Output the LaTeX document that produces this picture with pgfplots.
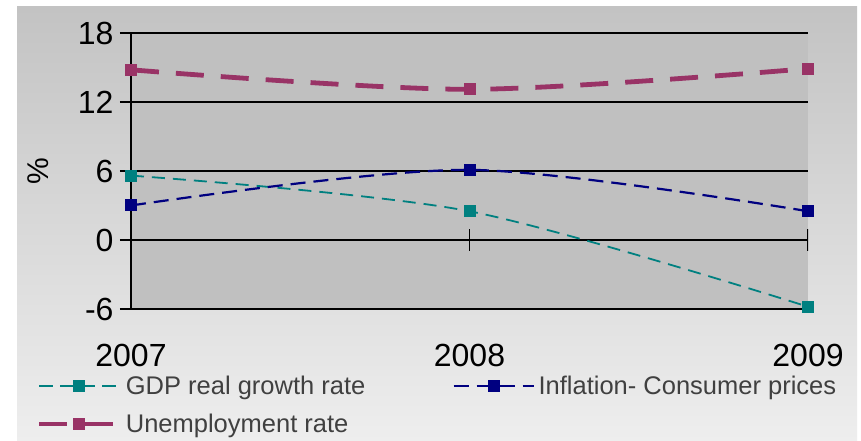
\documentclass[border=0pt]{standalone}
\usepackage{fontspec}
\setmainfont{Liberation Sans}
\usepackage{pgfplots}
\pgfplotsset{compat=1.18}
\definecolor{gdp}{HTML}{008080}
\definecolor{infl}{HTML}{000080}
\definecolor{unemp}{HTML}{993366}
\definecolor{plotbg}{HTML}{C0C0C0}
\definecolor{legtext}{HTML}{404040}
\begin{document}
\begin{tikzpicture}[x=1pt,y=1pt]
\path[fill=white] (0,0) rectangle (861,441);
\shade[top color={rgb,255:red,195;green,195;blue,195}, bottom color={rgb,255:red,238;green,238;blue,238}] (17,0) rectangle (857,434);
\begin{axis}[
  at={(131pt,132pt)}, anchor=south west,
  scale only axis, width=677pt, height=276pt,
  xmin=0, xmax=2, ymin=-6, ymax=18,
  axis background/.style={fill=plotbg},
  axis x line*=bottom, axis y line*=left,
  axis line style={black, line width=1.2pt},
  xtick={0,1,2}, xticklabels={2007,2008,2009},
  ytick={-6,0,6,12,18}, yticklabels={-6,0,6,12,18},
  xtick style={draw=none},
  ytick style={black, line width=1.2pt},
  tick align=outside, major tick length=11pt,
  ymajorgrids, grid style={black, line width=1.2pt},
  ticklabel style={font=\fontsize{32}{38}\selectfont, text=black},
  xticklabel style={yshift=-21pt},
  yticklabel style={xshift=-3pt},
  ylabel={\%},
  ylabel style={at={(axis description cs:-0.137,0.5)}, anchor=center, font=\fontsize{30}{34}\selectfont},
  legend columns=2,
  legend style={at={(axis description cs:-0.139,-0.348)}, anchor=west, draw=none, fill=none,
    font=\fontsize{25.5}{30}\selectfont, text=legtext, inner sep=0pt,
    row sep=10pt, nodes={inner sep=4pt, anchor=west},
    /tikz/column 2/.style={column sep=83pt},
    /tikz/column 4/.style={nodes={xshift=5pt}}},
  legend cell align=left,
  legend image code/.code={\draw[mark repeat=2,mark phase=2] plot coordinates {(0pt,0pt) (40pt,0pt) (80pt,0pt)};},
]
\addplot[gdp, line width=1.8pt, dash pattern=on 13pt off 8pt, smooth, tension=0.5,
  mark=square*, mark size=5.5pt, mark options={solid, fill=gdp, line width=0pt}]
  coordinates {(0,5.6) (1,2.5) (2,-5.8)};
\addlegendentry{GDP real growth rate}
\addplot[infl, line width=2.2pt, dash pattern=on 15pt off 8pt, smooth, tension=0.5,
  mark=square*, mark size=5.5pt, mark options={solid, fill=infl, line width=0pt}]
  coordinates {(0,3.0) (1,6.1) (2,2.5)};
\addlegendentry{Inflation- Consumer prices}
\addplot[unemp, line width=4.8pt, dash pattern=on 28pt off 17pt, smooth, tension=0.5,
  mark=square*, mark size=5.5pt, mark options={solid, fill=unemp, line width=0pt}]
  coordinates {(0,14.8) (1,13.1) (2,14.9)};
\addlegendentry{Unemployment rate}
\draw[black, line width=1.2pt] ([yshift=-11pt]axis cs:1,0) -- ([yshift=11pt]axis cs:1,0);
\draw[black, line width=1.2pt] ([yshift=-11pt]axis cs:2,0) -- ([yshift=11pt]axis cs:2,0);
\end{axis}
\end{tikzpicture}
\end{document}
